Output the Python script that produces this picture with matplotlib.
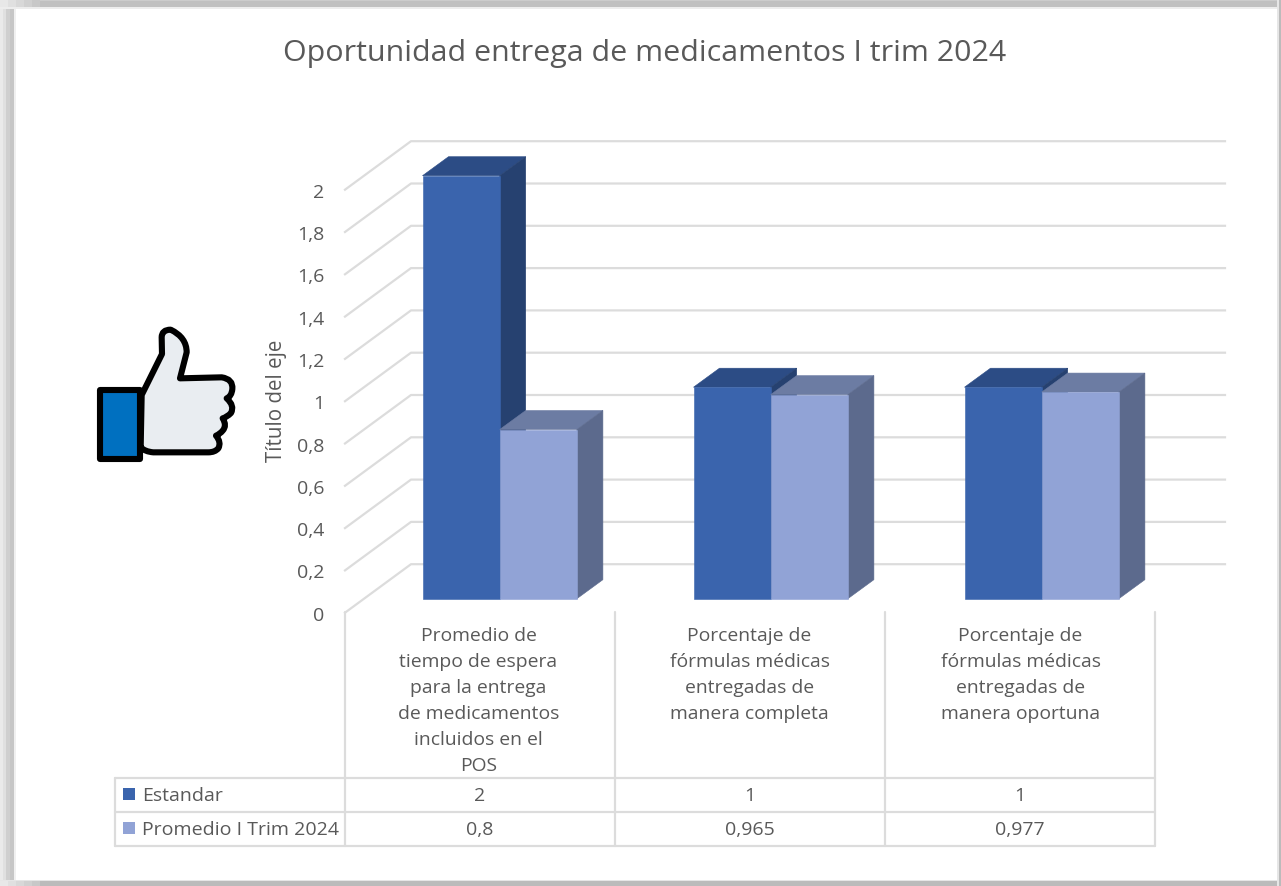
"""Oportunidad entrega de medicamentos: fake 3D column chart with data table."""

import matplotlib
matplotlib.use("Agg")
import matplotlib.pyplot as plt
from matplotlib.patches import PathPatch, Polygon, Rectangle
from matplotlib.path import Path

plt.rcParams["font.family"] = ["Open Sans", "DejaVu Sans"]

TITLE = "Oportunidad entrega de medicamentos I trim 2024"
CATEGORIES = [
    "Promedio de\ntiempo de espera\npara la entrega\nde medicamentos\nincluidos en el\nPOS",
    "Porcentaje de\nfórmulas médicas\nentregadas de\nmanera completa",
    "Porcentaje de\nfórmulas médicas\nentregadas de\nmanera oportuna",
]
SERIES_NAMES = ["Estandar", "Promedio I Trim 2024"]
ESTANDAR = [2, 1, 1]
PROMEDIO = [0.8, 0.965, 0.977]
Y_TICKS = [0, 0.2, 0.4, 0.6, 0.8, 1, 1.2, 1.4, 1.6, 1.8, 2]

W, H = 1281, 887
TEXT = "#595959"
GRID = "#DCDCDC"
# front, top and side face colours of each series
FACES = [("#3A64AD", "#2C4C85", "#264170"), ("#91A3D6", "#6C7CA3", "#5C6A8D")]

# the floor depth of the fake 3D box, in data units
BOX_DX, BOX_DY = 66 / 271, 48.5 / 211.5
BAR_X0, BAR_Y0 = 19.2 / 271, 14 / 211.5
BAR_W = 77.2 / 271
BAR_DX, BAR_DY = 26 / 271, 19 / 211.5


def comma(v):
    return f"{v:g}".replace(".", ",")


def draw_bar(ax, x, value, colors):
    y0 = BAR_Y0
    y1 = y0 + value
    x1 = x + BAR_W
    front, top, side = colors
    ax.add_patch(Polygon([(x, y1), (x1, y1), (x1 + BAR_DX, y1 + BAR_DY), (x + BAR_DX, y1 + BAR_DY)],
                         facecolor=top, edgecolor=top, linewidth=0.4, clip_on=False, zorder=3))
    ax.add_patch(Polygon([(x1, y0), (x1 + BAR_DX, y0 + BAR_DY), (x1 + BAR_DX, y1 + BAR_DY), (x1, y1)],
                         facecolor=side, edgecolor=side, linewidth=0.4, clip_on=False, zorder=3))
    ax.bar(x, value, BAR_W, bottom=y0, align="edge", color=front, edgecolor=front, linewidth=0.4,
           clip_on=False, zorder=3)


def draw_thumb(ov):
    hand = [
        (Path.MOVETO, 215, 258), (Path.LINETO, 276, 135), (Path.LINETO, 275, 85),
        (Path.CURVE3, 275, 62), (Path.CURVE3, 302, 62),
        (Path.CURVE3, 350, 85), (Path.CURVE3, 350, 130),
        (Path.LINETO, 330, 208), (Path.LINETO, 455, 205),
        (Path.CURVE3, 490, 210), (Path.CURVE3, 487, 240),
        (Path.CURVE3, 485, 262), (Path.CURVE3, 470, 268),
        (Path.CURVE3, 495, 290), (Path.CURVE3, 483, 312),
        (Path.CURVE3, 470, 325), (Path.CURVE3, 458, 328),
        (Path.CURVE3, 472, 350), (Path.CURVE3, 458, 365),
        (Path.CURVE3, 450, 375), (Path.CURVE3, 438, 380),
        (Path.CURVE3, 455, 400), (Path.CURVE3, 445, 418),
        (Path.CURVE3, 435, 430), (Path.CURVE3, 415, 430),
        (Path.LINETO, 250, 430), (Path.CURVE3, 225, 428), (Path.CURVE3, 212, 415),
        (Path.CLOSEPOLY, 215, 258),
    ]
    codes = [h[0] for h in hand]
    verts = [(70 + h[1] / 3, 310 + h[2] / 3) for h in hand]
    ov.add_patch(PathPatch(Path(verts, codes), facecolor="#E9EDF1", edgecolor="black",
                           linewidth=4.4, joinstyle="round"))
    ov.add_patch(Rectangle((99.5, 390.5), 40.5, 69.5, facecolor="#0070C0", edgecolor="black",
                           linewidth=4.4, joinstyle="round"))


def draw_frame(ov):
    # soft shadow round the pasted picture, outermost band first
    for (x, y, w, h, c) in [
        (0, 0, 16, H, "#F0F0F0"), (0, 0, 14, H, "#C6C6C6"), (0, 0, 10, H, "#CFCFCF"),
        (0, 0, 6, H, "#E0E0E0"), (0, 0, 3, H, "#EAEAEA"),
        (0, 0, W, 9.5, "#EDEDED"), (0, 0, W, 7.5, "#C0C0C0"), (0, 0, W, 2, "#CCCCCC"),
        (0, H - 6, W, 6, "#E6E6E6"), (0, H - 4.5, W, 4.5, "#BBBBBB"),
        (W - 4, 0, 4, H, "#E6E6E6"), (W - 2, 0, 2, H, "#BBBBBB"),
    ]:
        ov.add_patch(Rectangle((x, y), w, h, facecolor=c, edgecolor="none"))
    # corners fade out along the top and bottom edges
    for x, c in [(0, "#E8E8E8"), (8, "#E0E0E0"), (16, "#D8D8D8"), (24, "#D0D0D0"), (32, "#C8C8C8")]:
        ov.add_patch(Rectangle((x, 0), 8, 7.5, facecolor=c, edgecolor="none"))
        ov.add_patch(Rectangle((x, H - 4.5), 8, 4.5, facecolor=c, edgecolor="none"))


def draw_table(ov):
    cols = [345, 615, 885, 1155]
    rows = [779, 813, 847.5]
    line = dict(color=GRID, linewidth=1.6, solid_capstyle="round")
    for y in rows:
        ov.plot([115, 1155], [y, y], **line)
    ov.plot([115, 115], [rows[0], rows[-1]], **line)
    for x in cols:
        ov.plot([x, x], [613, rows[-1]], **line)

    for j, (name, vals) in enumerate(zip(SERIES_NAMES, [ESTANDAR, PROMEDIO])):
        y = (rows[j] + rows[j + 1]) / 2 - 2
        ov.add_patch(Rectangle((123, y - 5), 12, 12, facecolor=FACES[j][0], edgecolor="none"))
        ov.text(142, y, name, color=TEXT, fontsize=14, va="center_baseline", ha="left")
        for i, v in enumerate(vals):
            ov.text((cols[i] + cols[i + 1]) / 2, y, comma(v), color=TEXT, fontsize=14,
                    va="center_baseline", ha="center")


def main():
    fig = plt.figure(figsize=(W / 100, H / 100), dpi=100, facecolor="white")

    ax = fig.add_axes([345 / W, (H - 613.7) / H, 813 / W, 423 / H])
    ax.set_xlim(0, len(CATEGORIES))
    ax.set_ylim(0, 2)
    ax.patch.set_visible(False)
    for spine in ax.spines.values():
        spine.set_visible(False)

    x_end = len(CATEGORIES) + 67 / 271
    for v in Y_TICKS:
        ax.plot([0, BOX_DX, x_end], [v, v + BOX_DY, v + BOX_DY], color=GRID, linewidth=1.6,
                clip_on=False, zorder=1)

    ax.set_xticks([])
    ax.set_yticks(Y_TICKS)
    ax.set_yticklabels([comma(v) for v in Y_TICKS], fontsize=14, color=TEXT)
    ax.tick_params(axis="y", length=0, pad=15)
    ax.set_ylabel("Título del eje", fontsize=14.8, color=TEXT)
    ax.yaxis.set_label_coords((287 - 345) / 813, (613.7 - 401) / 423)

    for i in range(len(CATEGORIES)):
        x = i + 0.5 - BAR_W + BAR_X0
        draw_bar(ax, x, ESTANDAR[i], FACES[0])
        draw_bar(ax, x + BAR_W, PROMEDIO[i], FACES[1])

    for i, label in enumerate(CATEGORIES):
        ax.text(i + 0.5 - 2 / 271, -13 / 211.5, label, ha="center", va="top", fontsize=13.9,
                color=TEXT, linespacing=1.57, clip_on=False)

    # overlay in image pixels for the frame, thumb icon and data table
    ov = fig.add_axes([0, 0, 1, 1])
    ov.set_xlim(0, W)
    ov.set_ylim(H, 0)
    ov.axis("off")
    draw_frame(ov)
    draw_thumb(ov)
    draw_table(ov)

    fig.text(645 / W, 1 - 53 / H, TITLE, ha="center", va="center", fontsize=21.9, color=TEXT)
    fig.savefig("out.png", dpi=100)
    plt.close(fig)


if __name__ == "__main__":
    main()
